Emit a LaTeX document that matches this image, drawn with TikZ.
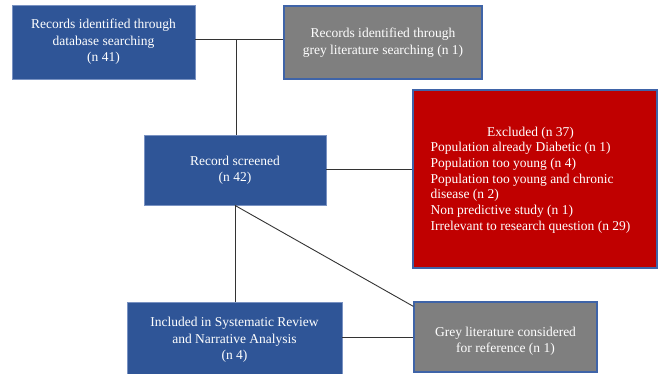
\documentclass[tikz,border=0pt]{standalone}
\usepackage{fontspec}
\setmainfont{Liberation Serif}
\definecolor{boxblue}{HTML}{2F5597}
\definecolor{boxgrey}{HTML}{7F7F7F}
\definecolor{boxred}{HTML}{C00000}
\definecolor{edgeblue}{HTML}{3F64A8}
\definecolor{lineclr}{HTML}{333333}
\begin{document}
\begin{tikzpicture}[x=1pt,y=1pt,
  box/.style={rectangle, inner sep=0pt, text=white, align=center,
    font=\fontsize{13.5}{16.5}\selectfont, line width=0.8pt},
  bluebox/.style={box, fill=boxblue, draw=edgeblue!70!white},
  greybox/.style={box, fill=boxgrey, draw=edgeblue, line width=1.2pt},
  redbox/.style={box, fill=boxred, draw=edgeblue, line width=1.2pt},
  conn/.style={draw=lineclr, line width=0.9pt}]
\useasboundingbox (0,0) rectangle (660,-373);
\clip (0,0) rectangle (660,-373);
\node[bluebox, minimum width=183pt, minimum height=74pt] (A) at (103.5,-42)
  {Records identified through\\database searching\\(n 41)};
\node[greybox, minimum width=198pt, minimum height=73pt] (B) at (383,-42.5)
  {Records identified through\\grey literature searching (n 1)};
\node[bluebox, minimum width=182pt, minimum height=70pt] (C) at (235,-170)
  {Record screened\\(n 42)};
\node[redbox, minimum width=244pt, minimum height=178pt] (D) at (535,-179) {};
\node[text=white, font=\fontsize{13.5}{15.7}\selectfont, inner sep=0pt] (Dt) at (530.5,-180)
  {\renewcommand\arraystretch{1}\begin{tabular}{@{}l@{}}
  \multicolumn{1}{@{}c@{}}{Excluded (n 37)}\\
  Population already Diabetic (n 1)\\
  Population too young (n 4)\\
  Population too young and chronic\\
  disease (n 2)\\
  Non predictive study (n 1)\\
  Irrelevant to research question (n 29)
  \end{tabular}};
\node[bluebox, minimum width=215pt, minimum height=76pt] (E) at (234.5,-340)
  {Included in Systematic Review\\and Narrative Analysis\\(n 4)};
\node[greybox, minimum width=183pt, minimum height=70pt] (F) at (505.5,-337) {};
\node[text=white, align=center, font=\fontsize{13.5}{16.5}\selectfont, inner sep=0pt] (Ft) at (505.5,-341)
  {Grey literature considered\\for reference (n 1)};
\coordinate (j) at (236,-39);
\draw[conn] (A.east |- j) -- (B.west |- j);
\draw[conn] (j) -- (j |- C.north);
\draw[conn] ([yshift=1pt]C.east) -- ([yshift=1pt]C.east -| D.west);
\draw[conn] (C.south) -- (C.south |- E.north);
\draw[conn] (C.south) -- ([yshift=-5pt]F.north west);
\draw[conn] (E.east |- F.west) -- (F.west);
\end{tikzpicture}
\end{document}
